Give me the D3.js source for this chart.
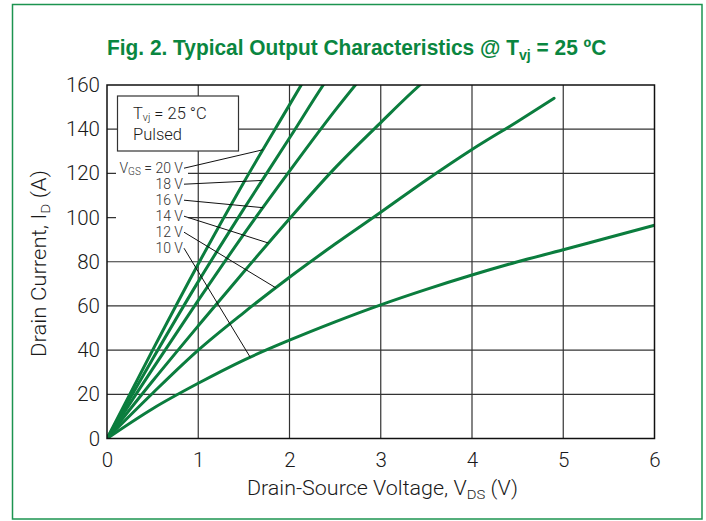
<!DOCTYPE html>
<html>
<head>
<meta charset="utf-8">
<script src="https://cdn.jsdelivr.net/npm/d3@7"></script>
<style>
  body { margin: 0; background: #fff; }
  text { font-family: Roboto, "Liberation Sans", sans-serif; }
</style>
</head>
<body>
<script>
// tick values
var xTicks = [0, 1, 2, 3, 4, 5, 6];
var yTicks = [0, 20, 40, 60, 80, 100, 120, 140, 160];

// curves: [VDS (V), ID (A)]
var vgs20 = [[0,0],[0.5,40],[1,79],[1.5,116],[2,151],[2.3,172]];
var vgs18 = [[0,0],[0.5,36],[1,71],[1.5,104],[2,136],[2.37,160],[2.5,168]];
var vgs16 = [[0,0],[0.5,31.5],[1,62.5],[1.5,92.5],[2,121],[2.5,148.5],[2.9,169]];
var vgs14 = [[0,0],[0.5,26],[1,51],[1.5,75.5],[2,99.5],[2.5,122.5],[3,143],[3.43,160],[3.6,166]];
var vgs12 = [[0,0],[0.5,20.5],[1,40],[1.5,57],[2,73],[2.5,88],[3,102.4],[3.5,117],[4,130.8],[4.5,143.5],[4.9,154]];
var vgs10 = [[0,0],[0.5,13.5],[1,25],[1.5,35.5],[2,44.5],[2.5,52.8],[3,60.5],[3.5,67.5],[4,74],[4.5,80],[5,85.4],[5.5,91],[6,96.5]];

var gateLabels = ["20 V", "18 V", "16 V", "14 V", "12 V", "10 V"];
var leaderAt = [1.71, 1.70, 1.71, 1.77, 1.85, 1.57]; // VDS where each leader touches its curve
var curves = [vgs20, vgs18, vgs16, vgs14, vgs12, vgs10];

var green = "#0b7d3e";

var svg = d3.select("body")
    .append("svg")
    .attr("width", 706)
    .attr("height", 521);

// outer frame
svg.append("rect")
    .attr("x", 12.5).attr("y", 4.5)
    .attr("width", 689.5).attr("height", 514.5)
    .attr("fill", "none")
    .attr("stroke", "#1c9450")
    .attr("stroke-width", 1.5);

var x = d3.scaleLinear().domain([0, 6]).range([107, 654.5]);
var y = d3.scaleLinear().domain([0, 160]).range([438.5, 85]);

// stretch a text horizontally so it spans `width`, keeping its anchor point
function fitWidth(sel, ax, width) {
  var w = sel.node().getComputedTextLength();
  sel.attr("transform", "translate(" + ax + ",0) scale(" + (width / w) + ",1) translate(" + (-ax) + ",0)");
}

// title
var title = svg.append("text")
    .attr("x", 107).attr("y", 55)
    .attr("fill", "#0a8640")
    .style("font-family", "'Liberation Sans Narrow', 'Arial Narrow', 'Liberation Sans', sans-serif")
    .style("font-weight", "bold")
    .style("font-size", "22px");
title.append("tspan").text("Fig. 2. Typical Output Characteristics @ T");
title.append("tspan").attr("dy", 5).style("font-size", "15px").text("vj");
title.append("tspan").attr("dy", -5).text(" = 25 ºC");
fitWidth(title, 107, 499.5);

// grid
var grid = svg.append("g").attr("stroke", "#333").attr("stroke-width", 1.2);
grid.selectAll(".vx").data(xTicks.slice(1, -1)).enter().append("line")
    .attr("x1", d => x(d)).attr("x2", d => x(d))
    .attr("y1", y(0)).attr("y2", y(160));
grid.selectAll(".hy").data(yTicks.slice(1, -1)).enter().append("line")
    .attr("x1", x(0)).attr("x2", x(6))
    .attr("y1", d => y(d)).attr("y2", d => y(d));

// axes (labels only)
var xAxis = svg.append("g")
    .attr("transform", "translate(0," + y(0) + ")")
    .call(d3.axisBottom(x).tickValues(xTicks).tickSize(0).tickPadding(14).tickFormat(d3.format("d")));
var yAxis = svg.append("g")
    .attr("transform", "translate(" + x(0) + ",0)")
    .call(d3.axisLeft(y).tickValues(yTicks).tickSize(0).tickPadding(7));
[xAxis, yAxis].forEach(function (a) {
  a.select(".domain").remove();
  a.selectAll("text")
      .style("font-family", "Roboto, 'Liberation Sans', sans-serif")
      .style("font-weight", 300)
      .style("font-size", "20.5px")
      .attr("fill", "#1a1a1a");
});

// axis titles
var xt = svg.append("text")
    .attr("x", 247).attr("y", 495)
    .attr("fill", "#1a1a1a")
    .style("font-weight", 300)
    .style("font-size", "19.5px");
xt.append("tspan").text("Drain-Source Voltage, V");
xt.append("tspan").attr("dy", 4).style("font-size", "13.5px").text("DS");
xt.append("tspan").attr("dy", -4).text(" (V)");
fitWidth(xt, 247, 271);

var ytg = svg.append("g").attr("transform", "translate(46,357) rotate(-90)");
var yt = ytg.append("text")
    .attr("x", 0).attr("y", 0)
    .attr("fill", "#1a1a1a")
    .style("font-weight", 300)
    .style("font-size", "19.5px");
yt.append("tspan").text("Drain Current, I");
yt.append("tspan").attr("dy", 4).style("font-size", "13.5px").text("D");
yt.append("tspan").attr("dy", -4).text(" (A)");
fitWidth(yt, 0, 187);

// curves
svg.append("clipPath").attr("id", "plot")
  .append("rect")
    .attr("x", x(0)).attr("y", y(160))
    .attr("width", x(6) - x(0)).attr("height", y(0) - y(160));

var line = d3.line()
    .x(d => x(d[0]))
    .y(d => y(d[1]))
    .curve(d3.curveMonotoneX);

svg.append("g").attr("clip-path", "url(#plot)")
  .selectAll("path").data(curves).enter().append("path")
    .attr("d", line)
    .attr("fill", "none")
    .attr("stroke", green)
    .attr("stroke-width", 3)
    .attr("stroke-linecap", "round");

// plot frame
svg.append("rect")
    .attr("x", x(0)).attr("y", y(160))
    .attr("width", x(6) - x(0)).attr("height", y(0) - y(160))
    .attr("fill", "none")
    .attr("stroke", "#111")
    .attr("stroke-width", 1.5);

// condition box
svg.append("rect")
    .attr("x", 117.5).attr("y", 96)
    .attr("width", 121).attr("height", 55)
    .attr("fill", "#fff")
    .attr("stroke", "#333")
    .attr("stroke-width", 1.2);
var c1 = svg.append("text")
    .attr("x", 133).attr("y", 119)
    .attr("fill", "#1a1a1a")
    .style("font-weight", 300)
    .style("font-size", "16.5px");
c1.append("tspan").text("T");
c1.append("tspan").attr("dy", 2).style("font-size", "10.5px").text("vj");
c1.append("tspan").attr("dy", -2).text(" = 25 °C");
svg.append("text")
    .attr("x", 133).attr("y", 139.5)
    .attr("fill", "#1a1a1a")
    .style("font-weight", 300)
    .style("font-size", "16.5px")
    .text("Pulsed");

// gate-voltage labels with leaders
svg.append("rect")
    .attr("x", 116).attr("y", 161)
    .attr("width", 72).attr("height", 96)
    .attr("fill", "#fff");

function curveAt(pts, v) {
  var i = d3.bisector(d => d[0]).left(pts, v);
  var a = pts[i - 1], b = pts[i];
  return a[1] + (b[1] - a[1]) * (v - a[0]) / (b[0] - a[0]);
}

var labelX = 183, labelY0 = 172.7, labelStep = 16;
gateLabels.forEach(function (lab, i) {
  var ly = labelY0 + i * labelStep;
  var t = svg.append("text")
      .attr("x", labelX).attr("y", ly)
      .attr("text-anchor", "end")
      .attr("fill", "#333")
      .style("font-weight", 300)
      .style("font-size", "14px");
  if (i === 0) {
    t.append("tspan").text("V");
    t.append("tspan").attr("dy", 2).style("font-size", "10px").text("GS");
    t.append("tspan").attr("dy", -2).text(" = " + lab);
  } else {
    t.text(lab);
  }
  var v = leaderAt[i];
  svg.append("line")
      .attr("x1", labelX + 1).attr("y1", ly - 4.5)
      .attr("x2", x(v)).attr("y2", y(curveAt(curves[i], v)))
      .attr("stroke", "#111")
      .attr("stroke-width", 1);
});
</script>
</body>
</html>
